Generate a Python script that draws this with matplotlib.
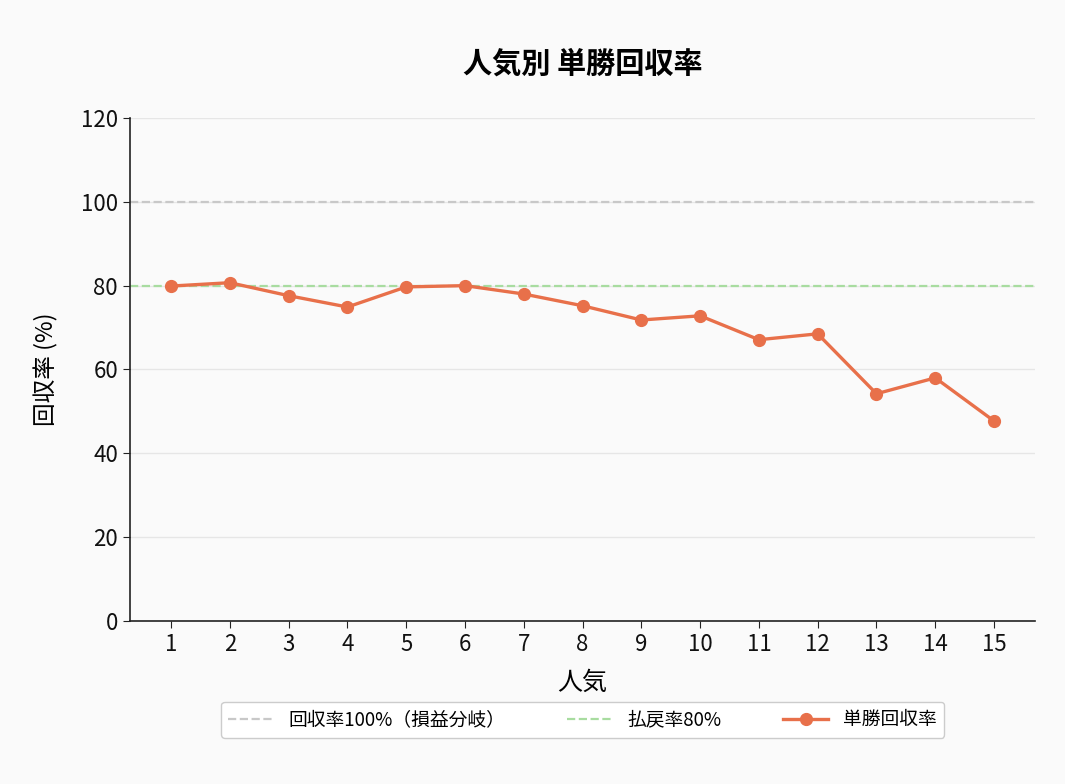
import matplotlib
matplotlib.use('Agg')
import matplotlib.pyplot as plt

plt.rcParams['font.family'] = ['Noto Sans CJK JP', 'DejaVu Sans']

# data
ninki = list(range(1, 16))
kaishu_ritsu = [79.9, 80.7, 77.6, 74.9, 79.7, 80.0, 78.0, 75.2, 71.8, 72.8, 67.1, 68.5, 54.2, 58.0, 47.7]
breakeven = 100
payout = 80

LINE_COLOR = '#e8704a'

fig = plt.figure(figsize=(10.65, 7.84), dpi=100, facecolor='#fafafa')
ax = fig.add_axes([0.122, 0.208, 0.85, 0.6415])
ax.set_facecolor('#fafafa')

ax.axhline(breakeven, color='#c8c8c8', linestyle='--', linewidth=1.6, label='回収率100%（損益分岐）')
ax.axhline(payout, color='#a8dca0', linestyle='--', linewidth=1.6, label='払戻率80%')
ax.plot(ninki, kaishu_ritsu, color=LINE_COLOR, linewidth=2.4, marker='o', markersize=8.5, label='単勝回収率')

ax.set_xlim(0.3, 15.7)
ax.set_ylim(0, 120)
ax.set_xticks(ninki)
ax.set_yticks(range(0, 121, 20))
ax.tick_params(labelsize=16, length=5, color='#222222', labelcolor='#111111')
ax.yaxis.grid(True, color='#e6e6e6', linewidth=1)
ax.set_axisbelow(True)
for s in ['top', 'right']:
    ax.spines[s].set_visible(False)
for s in ['left', 'bottom']:
    ax.spines[s].set_color('#222222')
    ax.spines[s].set_linewidth(1.2)

ax.set_xlabel('人気', fontsize=18, labelpad=10)
ax.set_ylabel('回収率 (%)', fontsize=17, labelpad=16)
ax.set_title('人気別 単勝回収率', fontsize=21, fontweight='bold', pad=33)

ax.legend(loc='upper center', bbox_to_anchor=(0.5, -0.142), ncol=3, fontsize=13.5,
          frameon=True, edgecolor='#cccccc', facecolor='white', handlelength=2.4,
          columnspacing=3.3, fancybox=True, framealpha=1)

fig.savefig('out.png', dpi=100, facecolor=fig.get_facecolor())
